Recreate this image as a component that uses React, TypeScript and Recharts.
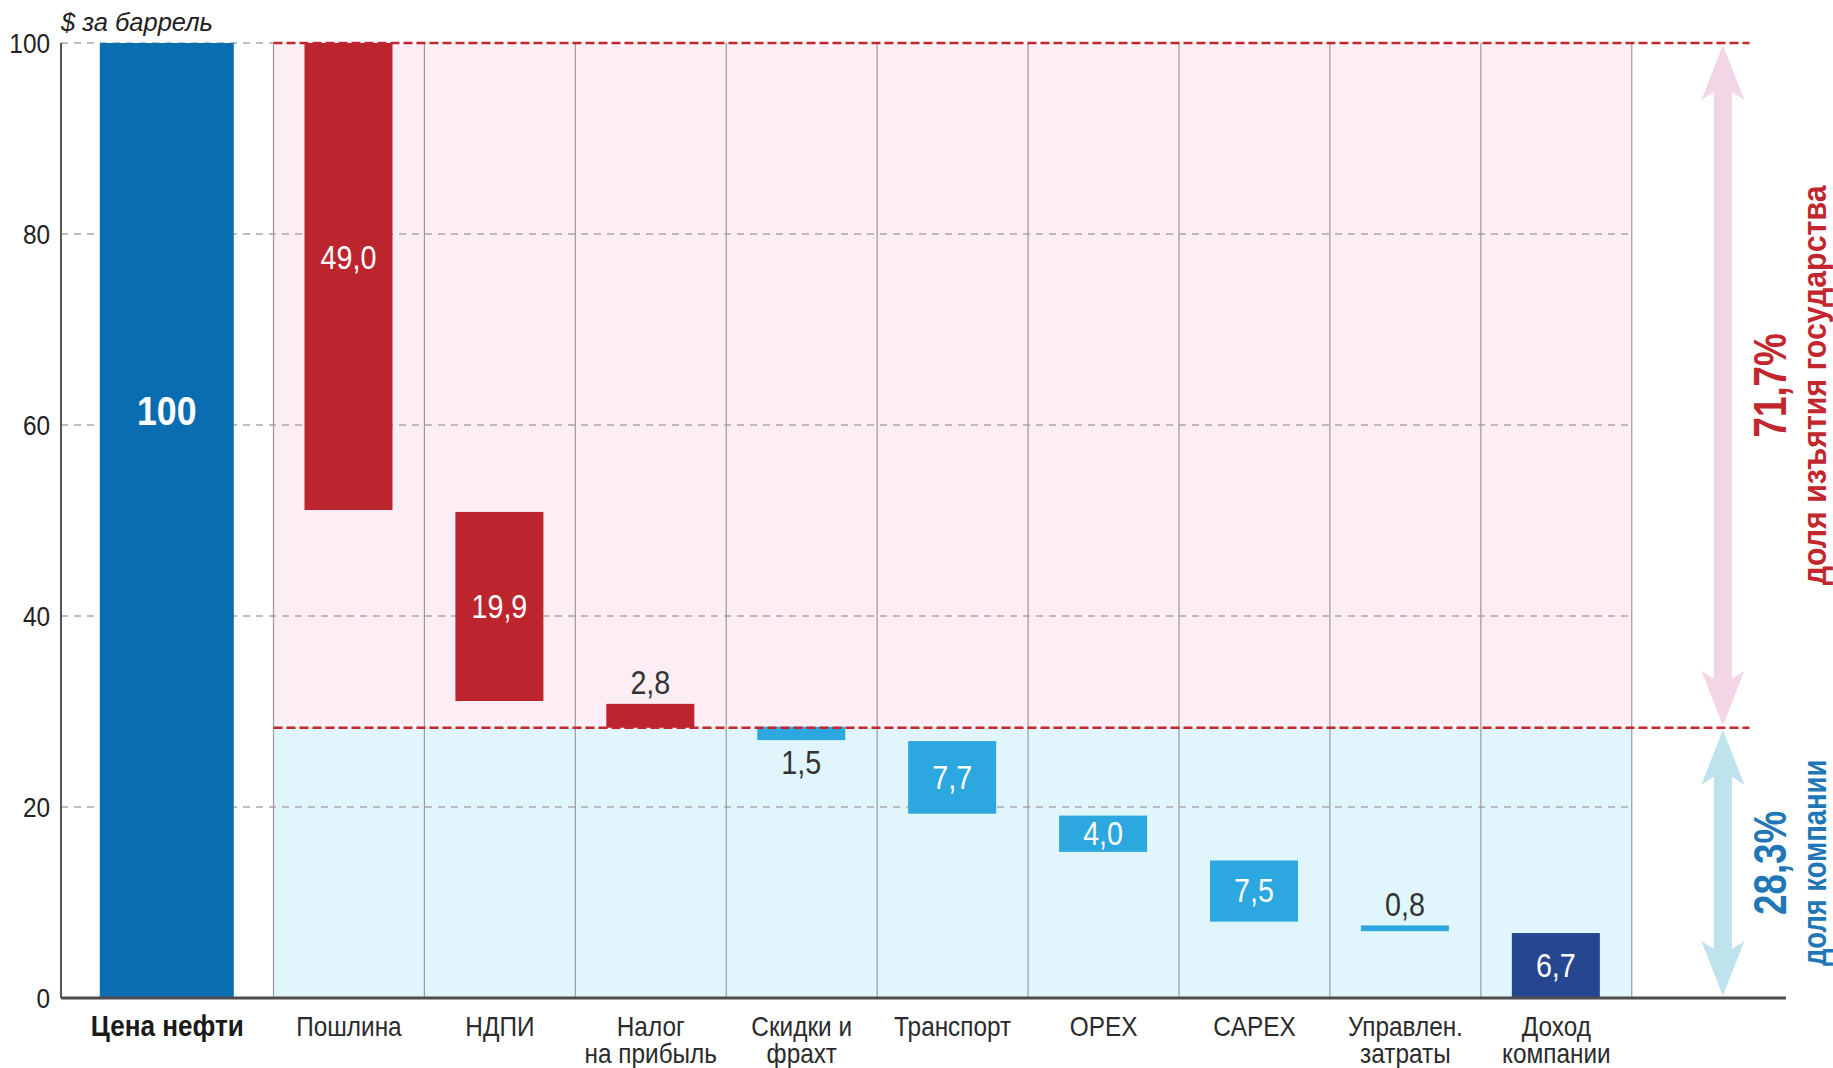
import React from 'react';
import { ComposedChart, Bar, XAxis, YAxis, ReferenceArea, ReferenceLine, LabelList } from 'recharts';

// категории и подписи под осью
const categories = ['Цена нефти', 'Пошлина', 'НДПИ', 'Налог на прибыль', 'Скидки и фрахт', 'Транспорт', 'OPEX', 'CAPEX', 'Управлен. затраты', 'Доход компании'];
const tickLines = [['Цена нефти'], ['Пошлина'], ['НДПИ'], ['Налог', 'на прибыль'], ['Скидки и', 'фрахт'], ['Транспорт'], ['OPEX'], ['CAPEX'], ['Управлен.', 'затраты'], ['Доход', 'компании']];

// $ за баррель
const amounts = [100, 49.0, 19.9, 2.8, 1.5, 7.7, 4.0, 7.5, 0.8, 6.7];
const barTops = [100, 100, 50.9, 30.8, 28.4, 26.9, 19.1, 14.4, 7.6, 6.8];
const barBottoms = [0, 51.1, 31.1, 28.3, 27.0, 19.3, 15.3, 8.0, 7.0, 0];
const kinds = ['total', 'gov', 'gov', 'gov', 'cost', 'cost', 'cost', 'cost', 'cost', 'income'];
const labelSides = ['inside', 'inside', 'inside', 'above', 'below', 'inside', 'inside', 'inside', 'above', 'inside'];

const govShare = 71.7;
const companyShare = 28.3;
const yTicks = [0, 20, 40, 60, 80, 100];

const COLORS: Record<string, string> = {
  total: '#0b6db1',
  gov: '#bc252e',
  cost: '#2ca7df',
  income: '#26468f',
};
const RED = '#c1272d';
const BLUE_TEXT = '#1f77b8';
const FONT = "'Liberation Sans', Arial, sans-serif";
const SQUEEZE = 0.87; // имитация узкого шрифта

// горизонтальная раскладка: единица оси X = ширина одной колонки
const X_MIN = -1.408;
const X_MAX = 10.022;
const TOTAL_POS = -0.704;
const ARROW_POS = 9.604;
const RED_LINE_END = 9.78;
const BAR_W = 88;
const TOTAL_W = 134;

const fmt = (v: number) => v.toFixed(1).replace('.', ',');

const rows = categories.map((name, i) => ({
  name,
  pos: i === 0 ? TOTAL_POS : i - 0.5,
  value: amounts[i],
  range: [barBottoms[i], barTops[i]],
  kind: kinds[i],
}));

// текст, сжатый по горизонтали
const NText = ({ x, y, children, size, anchor = 'middle', weight = 'normal', fill = '#2b2b2b', rotate = 0, sx = SQUEEZE, baseline, italic }: any) => (
  <text
    transform={`translate(${x} ${y}) rotate(${rotate}) scale(${sx} 1)`}
    x={0}
    y={0}
    textAnchor={anchor}
    dominantBaseline={baseline}
    fontSize={size}
    fontWeight={weight}
    fontStyle={italic ? 'italic' : 'normal'}
    fill={fill}
    fontFamily={FONT}
  >
    {children}
  </text>
);

const BarShape = (p: any) => {
  const w = p.payload.kind === 'total' ? TOTAL_W : p.width;
  const top = Math.min(p.y, p.y + p.height);
  const h = Math.abs(p.height);
  return <rect x={p.x + p.width / 2 - w / 2} y={top} width={w} height={h} fill={COLORS[p.payload.kind]} />;
};

const ValueLabel = (p: any) => {
  const { x, y, width, height, value, index } = p;
  const top = Math.min(y, y + height);
  const bottom = Math.max(y, y + height);
  const cx = x + width / 2;
  const side = labelSides[index];
  if (kinds[index] === 'total') {
    return (
      <NText x={cx} y={top + (bottom - top) * 0.385} baseline="central" size={41} weight="bold" fill="#fff">
        {Math.round(value)}
      </NText>
    );
  }
  let cy = (top + bottom) / 2;
  let fill = '#fff';
  if (side === 'above') {
    cy = top - 21;
    fill = '#333';
  } else if (side === 'below') {
    cy = bottom + 23;
    fill = '#333';
  } else if (bottom - top > 300) {
    cy -= 19;
  }
  return (
    <NText x={cx} y={cy} baseline="central" size={33} fill={fill}>
      {fmt(value)}
    </NText>
  );
};

const CategoryTick = (p: any) => {
  const lines = tickLines[p.index] || [];
  const bold = p.index === 0;
  return (
    <g>
      {lines.map((t, k) => (
        <NText key={k} x={p.x} y={p.y + 36 + k * 27} size={bold ? 30 : 28} weight={bold ? 'bold' : 'normal'} fill={bold ? '#1a1a1a' : '#2b2b2b'}>
          {t}
        </NText>
      ))}
    </g>
  );
};

const ValueTick = (p: any) => (
  <NText x={p.x} y={p.y} anchor="end" baseline="central" size={28} fill="#222">
    {p.payload.value}
  </NText>
);

const makeArrow = (fill: string, textColor: string, pct: number, caption: string, captionSx: number) => (p: any) => {
  const x = p.x1;
  const top = Math.min(p.y1, p.y2) + 2;
  const bottom = Math.max(p.y1, p.y2) - 2;
  const head = 55;
  const neck = 47;
  const hw = 21.5;
  const sw = 9;
  const d = `M${x},${top} L${x + hw},${top + head} L${x + sw},${top + neck} L${x + sw},${bottom - neck} L${x + hw},${bottom - head} L${x},${bottom} L${x - hw},${bottom - head} L${x - sw},${bottom - neck} L${x - sw},${top + neck} L${x - hw},${top + head} Z`;
  const mid = (top + bottom) / 2;
  return (
    <g>
      <path d={d} fill={fill} />
      <NText x={x + 47} y={mid} rotate={-90} sx={0.8} baseline="central" size={46} weight="bold" fill={textColor}>
        {fmt(pct)}%
      </NText>
      <NText x={x + 92} y={mid} rotate={-90} sx={captionSx} baseline="central" size={33} weight="bold" fill={textColor}>
        {caption}
      </NText>
    </g>
  );
};

export default function App() {
  return (
    <div style={{ position: 'absolute', left: 0, top: 0, width: 1833, height: 1068, background: '#fff', fontFamily: FONT }}>
      <ComposedChart width={1833} height={1068} data={rows} margin={{ top: 43, right: 47, bottom: 10, left: 8 }}>
        <XAxis
          type="number"
          dataKey="pos"
          domain={[X_MIN, X_MAX]}
          ticks={rows.map((r) => r.pos)}
          interval={0}
          tick={<CategoryTick />}
          tickLine={false}
          tickSize={0}
          tickMargin={2}
          height={60}
          axisLine={{ stroke: '#4d4d4d', strokeWidth: 3 }}
          allowDataOverflow
        />
        <YAxis
          type="number"
          domain={[0, 100]}
          ticks={yTicks}
          width={53}
          tickLine={false}
          tickSize={0}
          tickMargin={11}
          tick={<ValueTick />}
          axisLine={{ stroke: '#555', strokeWidth: 2 }}
          label={{
            content: () => (
              <NText x={61} y={31} anchor="start" size={26} sx={0.98} italic fill="#222">
                $ за баррель
              </NText>
            ),
          }}
        />

        <ReferenceArea zIndex={-60} x1={0} x2={9} y1={companyShare} y2={100} fill="#fdedf4" fillOpacity={1} stroke="none" />
        <ReferenceArea zIndex={-60} x1={0} x2={9} y1={0} y2={companyShare} fill="#e0f6fc" fillOpacity={1} stroke="none" />

        {yTicks.slice(1, 5).map((v) => (
          <ReferenceLine zIndex={-40} key={`g${v}`} segment={[{ x: X_MIN, y: v }, { x: 9, y: v }]} stroke="#a9a9a9" strokeWidth={1.5} strokeDasharray="7 6" />
        ))}
        <ReferenceLine zIndex={-40} segment={[{ x: X_MIN, y: 100 }, { x: 0, y: 100 }]} stroke="#a9a9a9" strokeWidth={1.5} strokeDasharray="7 6" />
        {Array.from({ length: 10 }, (_, k) => (
          <ReferenceLine zIndex={-40} key={`v${k}`} x={k} stroke="#9a9a9a" strokeWidth={1.2} />
        ))}

        <Bar dataKey="range" barSize={BAR_W} shape={BarShape} isAnimationActive={false}>
          <LabelList dataKey="value" content={ValueLabel} />
        </Bar>

        <ReferenceLine segment={[{ x: 0, y: 100 }, { x: RED_LINE_END, y: 100 }]} stroke={RED} strokeWidth={2.5} strokeDasharray="9 4" />
        <ReferenceLine segment={[{ x: 0, y: companyShare }, { x: RED_LINE_END, y: companyShare }]} stroke={RED} strokeWidth={2.5} strokeDasharray="9 4" />

        <ReferenceLine
          segment={[{ x: ARROW_POS, y: 100 }, { x: ARROW_POS, y: companyShare }]}
          shape={makeArrow('#f3d6e6', RED, govShare, 'доля изъятия государства', 0.92)}
        />
        <ReferenceLine
          segment={[{ x: ARROW_POS, y: companyShare }, { x: ARROW_POS, y: 0 }]}
          shape={makeArrow('#bfe3ec', BLUE_TEXT, companyShare, 'доля компании', 0.83)}
        />
      </ComposedChart>
    </div>
  );
}
